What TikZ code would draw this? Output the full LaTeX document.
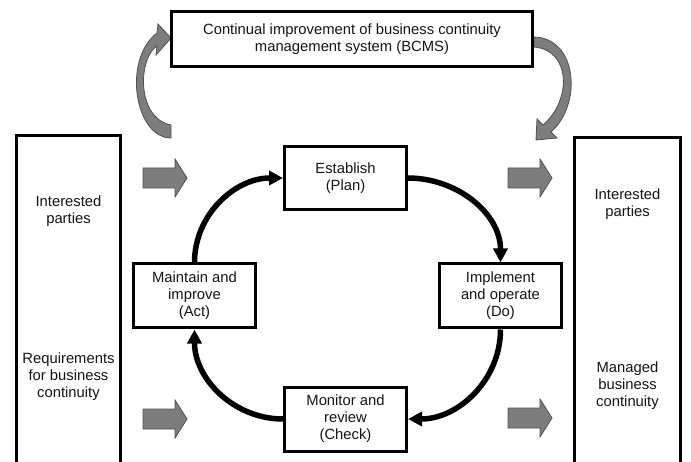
\documentclass[tikz,border=0pt]{standalone}
\usepackage{fontspec}
\setmainfont{Liberation Sans}
\usetikzlibrary{arrows.meta}
\definecolor{agray}{RGB}{125,125,125}
\definecolor{aedge}{RGB}{80,80,80}
\definecolor{ink}{RGB}{20,20,25}
\begin{document}
\begin{tikzpicture}[x=1pt,y=1pt,
  txt/.style={align=center, font=\fontsize{14.8}{17}\selectfont, text=ink, inner sep=0pt},
  pdca/.style={draw, line width=3pt, minimum width=122pt, minimum height=64pt, txt},
  tallbox/.style={draw, line width=3pt, minimum height=345pt, anchor=north},
  cyc/.style={line width=5.5pt, -{Triangle[length=14pt,width=14pt]}},
  garrow/.style={fill=agray, draw=aedge, line width=0.8pt, line join=miter},
  blockarrow/.pic={\path[garrow] (0,-10) -- (32,-10) -- (32,-19) -- (44,0) -- (32,19) -- (32,10) -- (0,10) -- cycle;}
]
\useasboundingbox (0,0) rectangle (691,461);
\clip (0,0) rectangle (691,461);

% curved gray arrows
\path[garrow] (171,323) .. controls (135,323) and (122,401) .. (157,428)
  -- (158,437) -- (171,423) -- (156,406) -- (157,415)
  .. controls (138,403) and (136,343) .. (171,336) -- cycle;
\path[garrow] (534,424) .. controls (578,423) and (582,356) .. (551,329)
  -- (557,323) -- (536,321) -- (537,342) -- (543,336)
  .. controls (572,361) and (571,411) .. (534,414) -- cycle;

% boxes
\node[draw, line width=3pt, minimum width=361pt, minimum height=55pt, txt] (top) at (352,422)
  {Continual improvement of business continuity\\management system (BCMS)};
\node[tallbox, minimum width=104pt] (leftbox) at (68.5,326.5) {};
\node[tallbox, minimum width=106pt] (rightbox) at (627.5,324.5) {};

\node[txt] (lip) at (68.5,250) {Interested\\parties};
\node[txt] (lreq) at (68.5,84) {Requirements\\for business\\continuity};
\node[txt] (rip) at (627.5,257) {Interested\\parties};
\node[txt] (rmbc) at (627.5,75) {Managed\\business\\continuity};

% block arrows
\pic at (143,283) {blockarrow};
\pic at (143,42) {blockarrow};
\pic at (508,283) {blockarrow};
\pic at (508,43) {blockarrow};

% PDCA
\node[pdca, minimum height=63pt] (est) at (345.5,283) {Establish\\(Plan)};
\node[pdca] (act) at (194.5,165) {Maintain and\\improve\\(Act)};
\node[pdca] (do) at (500.5,165) {Implement\\and operate\\(Do)};
\node[pdca] (chk) at (345.5,42) {Monitor and\\review\\(Check)};

\draw[cyc] (act.north) to[out=90,in=180] (est.west);
\draw[cyc] (est.east) to[out=0,in=90] (do.north);
\draw[cyc] (do.south) to[out=270,in=0] (chk.east);
\draw[cyc] (chk.west) to[out=180,in=270] (act.south);
\end{tikzpicture}
\end{document}
